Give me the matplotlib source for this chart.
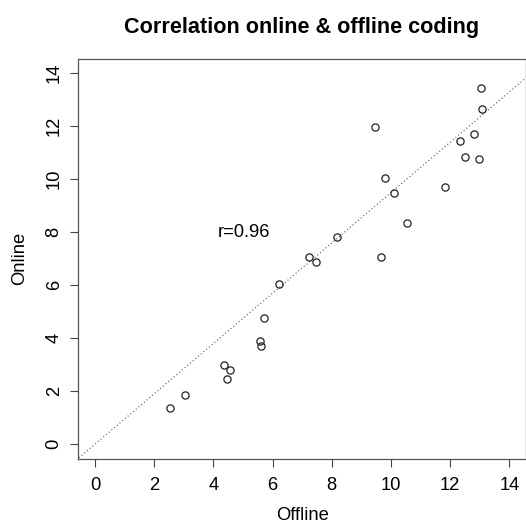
import numpy as np
import matplotlib.pyplot as plt

plt.rcParams['font.family'] = ['Liberation Sans', 'DejaVu Sans']

# offline vs online coding scores
offline = [13.05, 13.06, 9.47, 12.81, 12.33, 12.50, 12.98, 9.81, 10.11, 11.82,
           10.54, 8.16, 7.24, 7.47, 9.65, 6.23, 5.71, 5.56, 5.62, 4.36,
           4.56, 4.47, 3.04, 2.53]
online = [13.44, 12.66, 11.98, 11.70, 11.43, 10.83, 10.75, 10.05, 9.47, 9.71,
          8.34, 7.82, 7.07, 6.88, 7.05, 6.03, 4.75, 3.90, 3.70, 2.99,
          2.79, 2.45, 1.87, 1.36]
ticks = [0, 2, 4, 6, 8, 10, 12, 14]
r_label = "r=0.96"
# dotted reference line as drawn in the original
line_slope = 0.95
line_icept = 0.0

fs = 13.2

fig = plt.figure(figsize=(5.26, 5.24), dpi=100)
ax = fig.add_axes([78.4 / 526, 65 / 524, 1 - 78.4 / 526, (459 - 58.5) / 524])

xs = np.array([-1, 16])
ax.plot(xs, line_icept + line_slope * xs, ls=(0, (1, 2.2)), color='#555555', lw=0.8)
ax.plot(offline, online, 'o', mfc='none', mec='#222222', ms=5.2, mew=0.9)
ax.text(5.03, 8.0, r_label, ha='center', va='center', fontsize=fs)

ax.set_xlim(-0.56, 14.56)
ax.set_ylim(-0.56, 14.56)
ax.set_xticks(ticks)
ax.set_yticks(ticks)
ax.tick_params(length=5.8, width=0.8, labelsize=fs, color='#444444')
ax.tick_params(axis='x', pad=7.5)
ax.tick_params(axis='y', pad=5.5)
for lab in ax.get_yticklabels():
    lab.set_rotation(90)
    lab.set_va('center')
for s in ax.spines.values():
    s.set_color('#555555')
    s.set_linewidth(0.9)

ax.set_xlabel("Offline", fontsize=fs, labelpad=9)
ax.set_ylabel("Online", fontsize=fs, labelpad=13)
fig.text(302 / 526, 1 - 27 / 524, "Correlation online & offline coding",
         ha='center', va='center', fontsize=15.6, fontweight='bold')

fig.savefig("out.png", dpi=100)
